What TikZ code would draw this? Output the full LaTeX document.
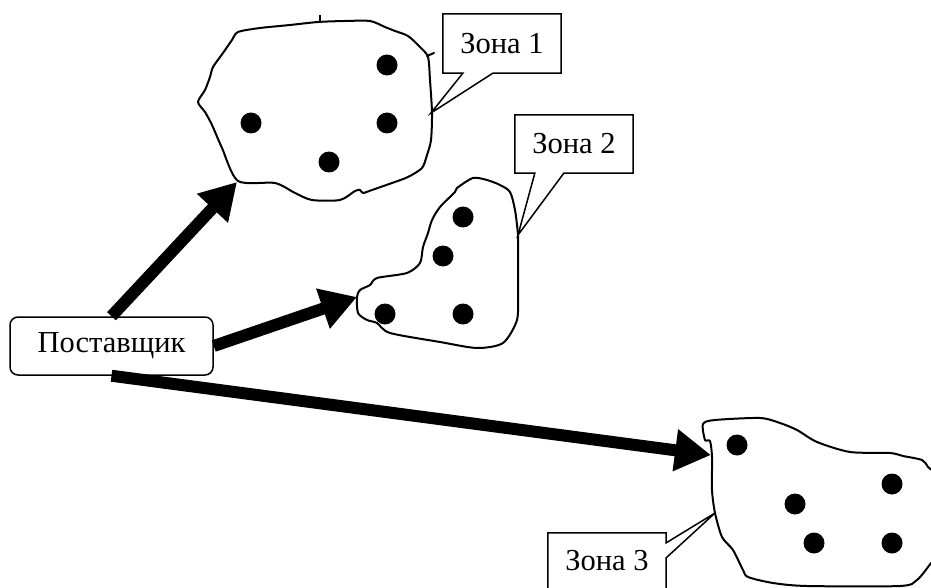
\documentclass[tikz,border=0pt]{standalone}
\usepackage{fontspec}
\setmainfont{Liberation Serif}
\usetikzlibrary{arrows.meta}
\begin{document}
\begin{tikzpicture}[x=1pt,y=-1pt,
  blob/.style={draw, line width=2pt, line join=round},
  spot/.style={circle, fill=black, inner sep=0pt, minimum size=21pt},
  txt/.style={font=\fontsize{30.5}{36}\selectfont, inner sep=0pt},
  balloon/.style={draw, fill=white, line width=1.5pt, line join=miter},
  supplier/.style={draw, rounded corners=8pt, line width=1.5pt, txt,
                   minimum width=203pt, minimum height=58pt},
  feed/.style={line width=12pt, -{Triangle[length=36pt,width=40pt]}}]
\useasboundingbox (0,0) rectangle (931,588);

% ---- area 1 ----
\draw[blob] plot[smooth cycle, tension=0.45] coordinates {
  (238,32) (260,28) (290,25) (318,22) (345,21) (370,21) (385,27) (395,31)
  (408,36) (420,47) (428,57) (430,80) (432,113) (431,140) (427,155) (422,168)
  (408,177) (392,183) (372,190) (363,193) (360,190) (355,191) (340,200)
  (312,200) (295,193) (275,183) (238,181) (222,148) (212,125) (205,112)
  (198,102) (205,90) (210,77) (213,67) (223,53) (232,40)};
\draw[line width=2pt] (320,15) -- (320,22);
\draw[line width=2pt, line cap=round] (427,56) -- (434,53);
\node[spot] (a1) at (387,65) {};
\node[spot] (a2) at (251,123) {};
\node[spot] (a3) at (387,123) {};
\node[spot] (a4) at (329,162) {};

% ---- area 2 ----
\draw[blob] plot[smooth cycle, tension=0.45] coordinates {
  (473,178) (487,180) (500,185) (510,192) (515,210) (518,235) (518,253)
  (518,290) (517,320) (503,343) (477,348) (440,342) (390,333) (377,323)
  (367,320) (358,313) (357,297) (360,290) (370,285) (377,278) (407,273)
  (420,263) (423,247) (428,233) (432,220) (440,207) (455,192) (457,188)};
\node[spot] (b1) at (463,217) {};
\node[spot] (b2) at (443,256) {};
\node[spot] (b3) at (385,314) {};
\node[spot] (b4) at (463,314) {};

% ---- area 3 ----
\draw[blob] plot[smooth cycle, tension=0.45] coordinates {
  (703,424) (715,420) (760,418) (780,423) (797,430) (817,442) (850,452)
  (890,453) (903,456) (922,460) (928,467) (936,480) (936,555) (931,563)
  (917,580) (900,586) (807,586) (773,583) (748,577) (743,570) (733,550)
  (722,537) (715,513) (712,490) (712,457) (710,441) (705,440)};
\node[spot] (c1) at (737,445) {};
\node[spot] (c2) at (892,484) {};
\node[spot] (c3) at (795,504) {};
\node[spot] (c4) at (814,543) {};
\node[spot] (c5) at (892,543) {};

% ---- callout labels ----
\coordinate (p1) at (431,113);
\coordinate (p2) at (518,235);
\coordinate (p3) at (715,513);

\node[txt, minimum width=118pt, minimum height=59pt] (z1) at (502,43.5) {};
\node[txt, minimum width=118pt, minimum height=58pt] (z2) at (574,144) {};
\node[txt, minimum width=118pt, minimum height=56pt] (z3) at (607,561) {};

\draw[balloon] (z1.north west) -- (z1.north east) -- (z1.south east)
  -- ([xshift=50pt]z1.south west) -- (p1) -- ([xshift=20pt]z1.south west)
  -- (z1.south west) -- cycle;
\draw[balloon] (z2.north west) -- (z2.north east) -- (z2.south east)
  -- ([xshift=49pt]z2.south west) -- (p2) -- ([xshift=20pt]z2.south west)
  -- (z2.south west) -- cycle;
\draw[balloon] (z3.north west) -- (z3.north east) -- ([yshift=-10pt]z3.north east)
  -- (p3) -- ([yshift=-25pt]z3.north east) -- ([yshift=-10pt]z3.south east)
  -- ([yshift=-10pt]z3.south west) -- cycle;
\node[txt] (l1) at (z1.center) {Зона 1};
\node[txt] (l2) at (z2.center) {Зона 2};
\node[txt] (l3) at (z3.center) {Зона 3};

% ---- supplier and deliveries ----
\node[supplier] (sup) at (111.5,346) {Поставщик};
\coordinate (t1) at (237,182);
\coordinate (t2) at (357,297);
\coordinate (t3) at (711,455);
\draw[feed] (sup.north) -- (t1);
\draw[feed] (sup.east) -- (t2);
\draw[feed] (sup.south) -- (t3);
\end{tikzpicture}
\end{document}
